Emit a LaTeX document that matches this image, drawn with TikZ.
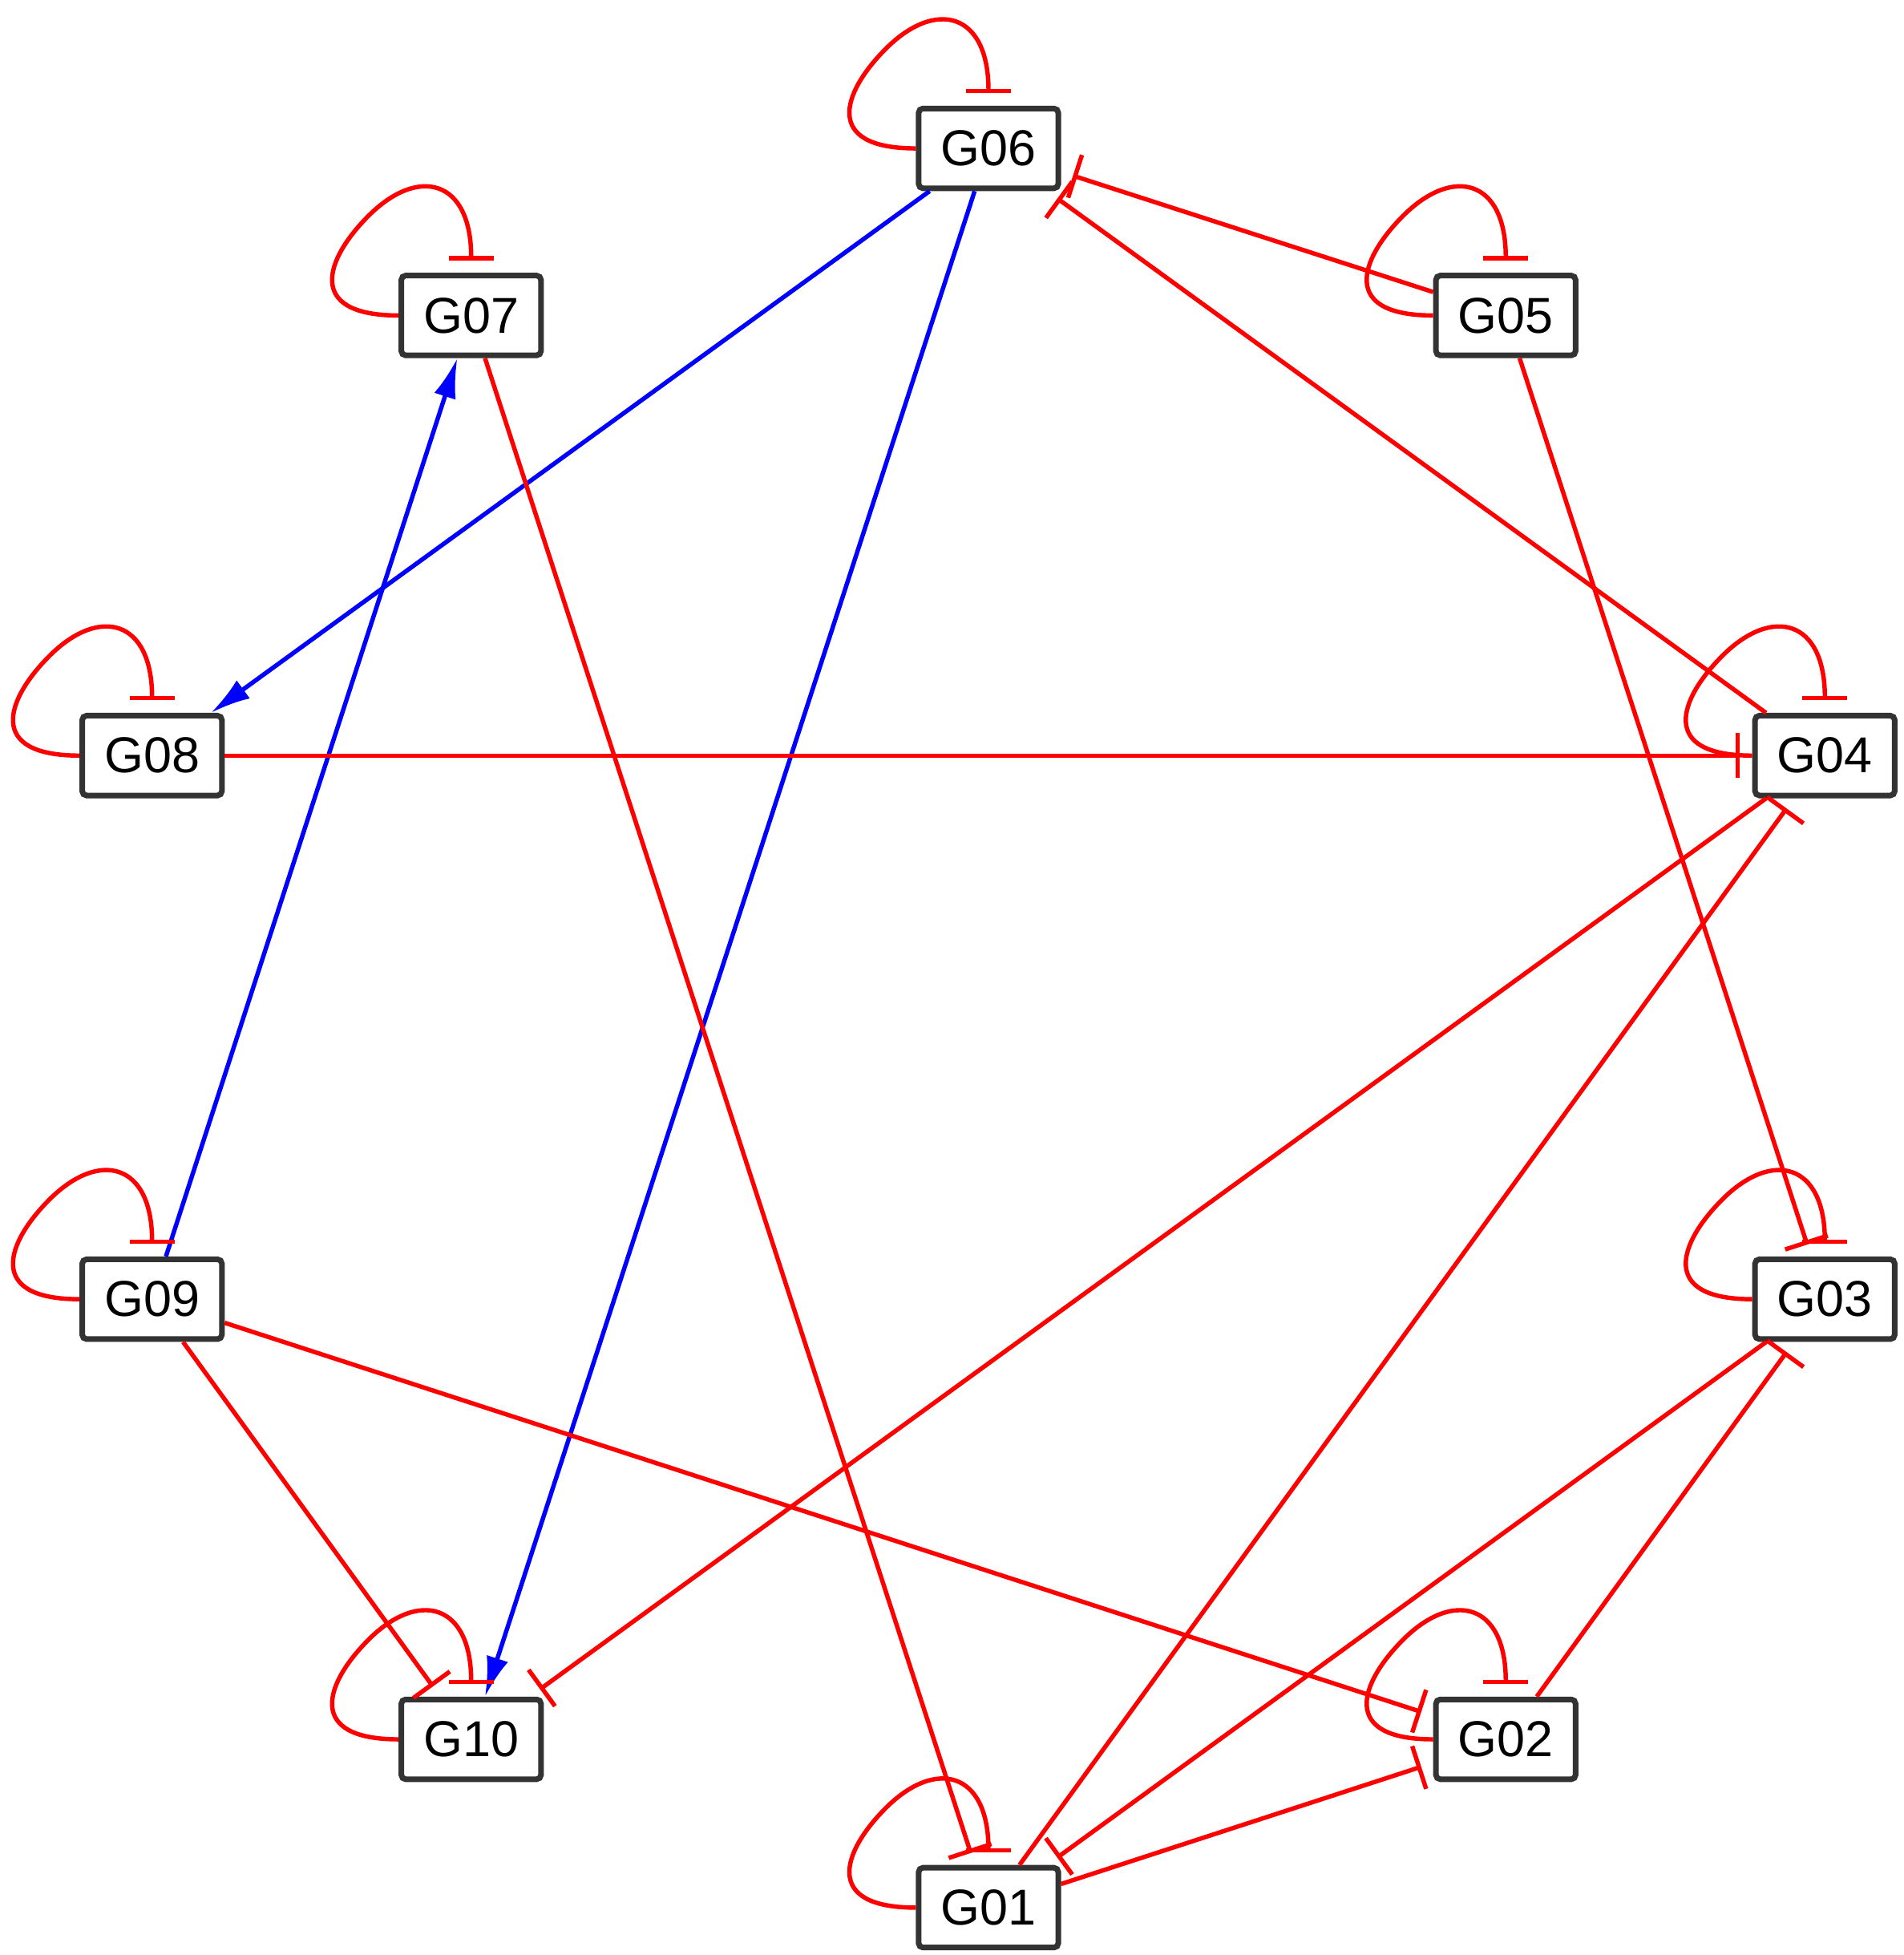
\documentclass[tikz,border=0pt]{standalone}
\usepackage{fontspec}
\setmainfont{Liberation Sans}
\usetikzlibrary{arrows.meta}
\begin{document}
\begin{tikzpicture}[x=0.01cm,y=-0.01cm,
 gene/.style={draw=black!80,line width=0.045cm,rounded corners=1pt,fill=white,minimum width=1.12cm,minimum height=0.64cm,inner sep=0pt,font=\fontsize{11.5}{13}\selectfont},
 inh/.style={draw=red,line width=0.035cm,-{Bar[width=0.36cm,line width=0.035cm]},shorten >=0.1cm},
 act/.style={draw=blue,line width=0.035cm,-{Latex[length=0.32cm,width=0.18cm]}}]
\useasboundingbox (0,0) rectangle (1527,1568);
\node[gene] (G06) at (793,119) {G06};
\node[gene] (G07) at (378,253) {G07};
\node[gene] (G05) at (1208,253) {G05};
\node[gene] (G08) at (122,606) {G08};
\node[gene] (G04) at (1464,606) {G04};
\node[gene] (G09) at (122,1042) {G09};
\node[gene] (G03) at (1464,1042) {G03};
\node[gene] (G10) at (378,1395) {G10};
\node[gene] (G02) at (1208,1395) {G02};
\node[gene] (G01) at (793,1530) {G01};
\draw[act] (G06) -- (G08);
\draw[act] (G06) -- (G10);
\draw[act] (G09) -- (G07);
\draw[inh] (G05) -- (G06);
\draw[inh] (G04) -- (G06);
\draw[inh] (G07) -- (G01);
\draw[inh] (G08) -- (G04);
\draw[inh] (G05) -- (G03);
\draw[inh] (G04) -- (G10);
\draw[inh] (G01) -- (G04);
\draw[inh] (G09) -- (G02);
\draw[inh] (G09) -- (G10);
\draw[inh] (G03) -- (G01);
\draw[inh] (G02) -- (G03);
\draw[inh] (G01) -- (G02);
\foreach \n in {G01,G02,G03,G04,G05,G06,G07,G08,G09,G10}{
 \draw[inh] (\n.west) .. controls +(-75,0) and +(-35,35) .. ++(-24,-80)
   .. controls +(40,-40) and +(0,-75) .. (\n.north);
}
\end{tikzpicture}
\end{document}
